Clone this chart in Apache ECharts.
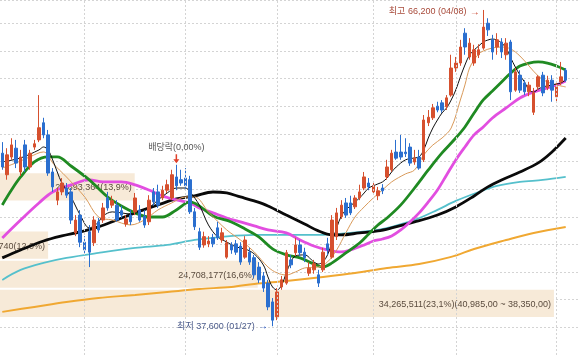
<!DOCTYPE html>
<html><head><meta charset="utf-8">
<script src="https://cdn.jsdelivr.net/npm/echarts/dist/echarts.min.js"></script>
<style>html,body{margin:0;padding:0;background:#fff}#c{width:580px;height:355px}</style>
</head><body><div id="c"></div>
<script>
// candles: [open, close, low, high]
const ohlc = [
[53250,52000,51750,54250],[51300,53100,50850,53700],[52900,54000,52650,54600],[53700,52350,51900,54450],
[51550,52900,51200,53550],[54000,52000,51550,54450],[52000,53250,51750,53550],[53800,54100,53550,54450],
[54450,55550,54250,58500],[56000,54900,54600,56450],[54900,51450,51200,55350],[51550,50200,49750,51900],
[49000,49750,48550,50100],[49750,50550,49450,51000],[50100,49450,49200,50550],[49750,47200,46850,50100],
[46050,47200,45750,47650],[47650,45200,44750,48100],[45200,44500,44050,45750],[46150,44300,42950,46750],
[45150,47200,44850,47550],[47050,46300,46050,47400],[47200,48300,46950,48750],[49200,48300,48050,49750],
[48550,48950,48300,49400],[48550,47200,47050,49000],[48050,47650,47400,48500],[46850,47300,46600,47650],
[47650,47050,46750,48100],[47950,49200,47650,49650],[48100,47200,47050,48550],[47550,46750,46500,48100],
[47050,49000,46750,49450],[49750,48850,48500,50100],[49750,48550,48300,50400],[49200,49900,49000,50300],
[49900,50400,49650,50850],[49200,51300,49000,51750],[51100,50300,49900,52200],[50850,50550,50300,51750],
[51000,50300,49900,51900],[50850,47950,47750,51200],[47950,46600,46300,48300],[46150,44750,44500,46500],
[44950,45700,44700,46150],[45050,45300,44750,45750],[45600,45050,44750,45950],[46500,45600,45400,47050],
[45400,46050,45150,46500],[43850,45150,43700,45400],[44950,44500,44150,45200],[45050,44300,44050,45400],
[44850,43400,43150,45200],[43850,45400,43700,45750],[44300,43400,43150,44700],[43800,42250,41950,44050],
[42950,41800,41500,43400],[42150,41050,40700,42500],[41500,39350,39050,41800],[39800,38150,37600,40150],
[38450,40700,38150,41050],[41150,41800,40900,42150],[41500,44250,41350,44500],[43600,43150,42850,44050],
[44250,44950,43950,45600],[44950,44250,43950,45400],[44300,43800,43400,44700],[42400,42850,42150,43400],
[42700,43250,42350,43600],[42250,41500,41150,42700],[42700,44300,42500,44700],[45050,44500,44050,45600],
[43850,47200,43700,47650],[45700,47850,45400,48300],[47500,48550,47300,49000],[48750,47650,47400,49200],
[48750,47850,47650,49400],[48400,49200,48200,49450],[49200,49750,49000,50400],[50100,51100,49900,51550],
[50550,50200,49900,51000],[49750,50300,49550,50550],[49400,49850,49000,50200],[50100,49850,49550,50450],
[51100,52000,50850,52650],[51750,53250,51550,53550],[53350,52800,52650,54450],[53350,52900,52650,54900],
[53350,53200,52900,54600],[53800,52350,52100,54150],[52450,52800,52200,53550],[52900,51900,51750,53550],
[52650,56250,52450,56700],[56000,56500,55700,57150],[56450,57350,56250,57700],[57500,57150,56950,57900],
[57800,57150,56900,58050],[57450,58250,57150,58500],[58500,60950,58350,62150],[60950,61400,60600,61950],
[61400,62850,61150,63500],[64100,62850,62150,64550],[61950,63200,61700,63650],[61400,62600,61150,63050],
[62150,62600,61850,63100],[62750,64650,62600,66200],[65000,64400,63850,65450],[63500,62400,61700,63950],
[62850,63500,62150,64100],[63300,62400,61850,63650],[62150,63200,61700,63650],[63300,58800,58050,63500],
[58950,60600,58800,60950],[60300,58950,58700,60750],[59600,58800,58500,59850],[58800,59400,58400,59700],
[56950,58700,56700,59150],[59250,60150,58950,60300],[60300,58700,58400,60600],[59150,59850,58950,60250],
[59850,58950,57900,60300],[58350,59250,57800,59700],[59700,60150,59400,61500],[60750,59850,59700,60950]
];
const days = ohlc.map((_, i) => 'D' + (i + 1));

// moving averages, [candle index, price]
const ma5 = [[0,52460],[4,52820],[8,53540],[9,53810],[10,53540],[11,52640],[12,51550],[13,50560],[15,49290],[17,47660],[19,46490],[20,46670],[21,47030],[22,47570],[24,47940],[26,47850],[28,47750],[30,47940],[32,48300],[34,49020],[36,49650],[38,50100],[40,50100],[41,49740],[43,48570],[45,46760],[47,45680],[49,45220],[51,44770],[53,44590],[55,44140],[57,43140],[58,42060],[59,41150],[60,40880],[61,41340],[62,42420],[63,43420],[64,43960],[66,44050],[68,43420],[69,43230],[70,43420],[71,44050],[72,45220],[73,46490],[74,47570],[75,48120],[76,48480],[77,48840],[78,49200],[79,49650],[80,50100],[82,50470],[83,50650],[84,51010],[85,51550],[86,52000],[88,52640],[90,52820],[91,52910],[92,53540],[93,54620],[94,55530],[95,56250],[96,56890],[97,57340],[98,58060],[99,58960],[100,60140],[101,61220],[102,62130],[103,62580],[104,62940],[105,63300],[106,63480],[107,63570],[108,63480],[109,63210],[110,62760],[111,61860],[112,61040],[113,60320],[114,59690],[115,58960],[116,58780],[117,59050],[118,59240],[119,59330],[120,59420],[121,59510],[122,59600],[123,59870]];
const ma10 = [[0,51910],[3,52370],[6,52910],[9,53360],[10,53090],[11,52370],[14,51100],[18,49290],[21,47480],[24,47210],[28,46760],[31,47210],[34,48120],[37,48750],[40,49290],[42,49290],[45,47940],[49,46310],[52,45400],[55,44320],[58,42960],[60,42420],[62,42240],[64,42510],[66,42870],[69,42960],[71,43420],[73,44500],[75,46040],[77,47480],[79,48390],[81,49200],[83,49920],[85,50650],[88,51370],[90,51730],[92,53090],[94,53990],[96,54620],[98,55530],[100,58060],[101,59420],[102,60950],[103,61680],[104,62220],[105,62490],[107,62760],[109,62850],[111,62670],[113,62040],[115,61130],[117,60230],[119,59690],[121,59420],[123,59240]];
const ma20 = [[0,48570],[2,49920],[4,51100],[7,52460],[10,52910],[12,52910],[15,52090],[19,50830],[23,49290],[26,48480],[29,47850],[32,47480],[35,47480],[38,48120],[41,48840],[43,48480],[46,47570],[50,47030],[53,46400],[56,45680],[59,44590],[62,44050],[65,43780],[68,43230],[70,42960],[72,43330],[75,44230],[78,45130],[80,45950],[82,46760],[84,47390],[87,48570],[90,50100],[93,51730],[96,53270],[99,54620],[101,55620],[103,56880],[105,58060],[107,58870],[109,59690],[111,60500],[113,61130],[115,61400],[117,61500],[119,61400],[121,61130],[123,60770]];
const ma60 = [[0,45590],[4,47210],[8,48750],[11,49740],[15,50380],[19,50830],[22,50650],[26,50650],[29,50380],[32,49920],[35,49380],[38,49020],[41,48750],[43,48300],[46,47850],[49,47390],[52,47030],[55,46670],[58,46310],[62,46040],[65,45400],[68,44860],[71,44500],[74,44320],[76,44500],[79,44950],[81,45310],[83,45490],[85,45770],[87,46310],[89,47030],[91,47850],[93,48840],[95,49920],[97,51280],[99,52640],[101,53810],[103,54900],[105,55620],[107,56430],[110,57340],[113,58240],[116,58780],[119,59150],[121,59420],[123,59780]];
const ma120 = [[0,43780],[4,44500],[9,45310],[13,45770],[17,46130],[21,46580],[25,47210],[29,47850],[34,48570],[38,49110],[42,49380],[46,49740],[49,49650],[52,49290],[55,48930],[58,48480],[62,47660],[66,46850],[69,46220],[72,45860],[74,45860],[78,46040],[82,46220],[85,46490],[90,47030],[95,47660],[99,48390],[103,49380],[106,50200],[109,50830],[113,51550],[117,52370],[120,53360],[123,54620]];
const maCyan = [[0,41790],[4,42690],[9,43330],[14,43780],[21,44230],[29,44680],[36,44950],[42,45400],[48,45680],[55,45860],[62,45860],[69,45860],[76,46040],[82,46310],[85,46580],[90,47210],[95,48120],[99,48930],[104,49740],[108,50290],[113,50650],[118,50830],[123,51100]];
const maOrange = [[0,38900],[7,39350],[14,39800],[21,40160],[29,40430],[36,40700],[43,40970],[50,41150],[55,41430],[62,41700],[70,42060],[77,42420],[84,42870],[91,43230],[98,43870],[103,44590],[110,45400],[116,46040],[123,46580]];

// volume-by-price bands
const bandLow  = [48890, 43620, 40985, 38350];
const bandHigh = [51525, 46255, 43620, 40985];
const bandVolume = [20693364, 17812740, 24708177, 34265511];
const bandPct = [13.9, 12.0, 16.6, 23.1];

const monthStarts = [18, 40, 60, 81, 99, 121];
const highPoint = {idx: 105, price: 66200, date: '04/08'};
const lowPoint = {idx: 59, price: 37600, date: '01/27'};
const exDiv = {idx: 38, price: 52200, text: '배당락(0,00%)'};

const fmt = n => n.toLocaleString('en-US');
const pctText = p => p.toFixed(1).replace('.', ',');
const maxK = bandVolume.indexOf(Math.max(...bandVolume));
const bandLabels = bandVolume.map((v, k) => {
  let s = fmt(v) + '(' + pctText(bandPct[k]) + '%)';
  if (k === maxK) s += '(' + fmt(bandHigh[k]) + ',00 ~ ' + fmt(bandLow[k]) + ',00)';
  return s;
});

const FONT = '"Liberation Sans", "Noto Sans CJK KR", sans-serif';
const chart = echarts.init(document.getElementById('c'), null, {renderer: 'canvas'});

function maSeries(data, color, width, z) {
  return {type: 'line', xAxisIndex: 0, yAxisIndex: 0, data, smooth: 0.35, showSymbol: false,
    silent: true, z, lineStyle: {color, width}, itemStyle: {color}};
}

chart.setOption({
  animation: false,
  backgroundColor: '#ffffff',
  grid: [
    {left: 0, right: 12, top: 0, bottom: 0},
    {left: 0, right: 0, top: 0, bottom: 0}
  ],
  xAxis: [
    {type: 'category', gridIndex: 0, data: days, boundaryGap: true, show: false},
    {type: 'value', gridIndex: 1, min: 10.944, max: 23.672, show: false}
  ],
  yAxis: [
    {type: 'value', gridIndex: 0, min: 35000, max: 67100, show: false, scale: true},
    {type: 'value', gridIndex: 1, min: 35000, max: 67100, interval: 2500,
      axisLine: {show: false}, axisTick: {show: false}, axisLabel: {show: false},
      splitLine: {show: true, lineStyle: {color: '#d4d4d4', type: [2, 2], width: 1}}}
  ],
  series: [
    {type: 'line', xAxisIndex: 0, yAxisIndex: 0, data: [], z: 1, silent: true,
      markLine: {silent: true, symbol: ['none', 'none'], label: {show: false},
        lineStyle: {color: '#d4d4d4', type: [2, 2], width: 1},
        data: monthStarts.map(i => ({xAxis: i}))}},
    {type: 'custom', xAxisIndex: 1, yAxisIndex: 1, z: 2, silent: true,
      data: bandPct.map((p, k) => [p, bandLow[k], bandHigh[k], k]),
      encode: {x: 0, y: [1, 2]},
      renderItem(params, api) {
        const k = api.value(3);
        const top = api.coord([api.value(0), api.value(2)]);
        const bot = api.coord([api.value(0), api.value(1)]);
        const x0 = params.coordSys.x;
        return {type: 'group', children: [
          {type: 'rect', shape: {x: x0, y: top[1] + 1, width: top[0] - x0, height: bot[1] - top[1] - 2},
            style: {fill: '#f7ead8'}},
          {type: 'text', style: {text: bandLabels[k], x: top[0] - 3, y: (top[1] + bot[1]) / 2 + 1,
            align: 'right', verticalAlign: 'middle', fill: '#5a4b3e', font: '9px ' + FONT}}
        ]};
      }},
    maSeries(maOrange, '#f0a832', 2, 3),
    maSeries(maCyan, '#55c0cc', 1.8, 3),
    maSeries(ma120, '#0a0a0a', 2.8, 3),
    maSeries(ma60, '#e24ee0', 2.8, 3),
    maSeries(ma20, '#1f8a22', 2.8, 3),
    maSeries(ma10, '#d99a5a', 1, 3),
    maSeries(ma5, '#111111', 1, 3),
    {type: 'candlestick', xAxisIndex: 0, yAxisIndex: 0, data: ohlc, barWidth: 3, z: 4,
      itemStyle: {color: '#d6502e', color0: '#2b6fcf', borderColor: '#d6502e', borderColor0: '#2b6fcf', borderWidth: 1},
      markPoint: {silent: true, animation: false, data: [
        {coord: [exDiv.idx, exDiv.price], symbol: 'path://M3,0 L5,0 L5,6 L8,6 L4,11 L0,6 L3,6 Z',
          symbolSize: [6, 9], symbolOffset: [0, -6], itemStyle: {color: '#e0402a'},
          label: {show: true, position: 'top', distance: 2, formatter: exDiv.text,
            color: '#555555', fontSize: 9, fontFamily: FONT}},
        {coord: [highPoint.idx, highPoint.price], symbol: 'circle', symbolSize: 1,
          itemStyle: {color: 'rgba(0,0,0,0)'},
          label: {show: true, position: 'left', distance: 3, offset: [0, 2],
            formatter: '{t|최고 ' + fmt(highPoint.price) + ' (' + highPoint.date + ')} {a|→}',
            rich: {t: {color: '#a84a3a', fontSize: 9, fontFamily: FONT},
                   a: {color: '#c8402a', fontSize: 10, fontWeight: 'bold', fontFamily: FONT}}}},
        {coord: [lowPoint.idx, lowPoint.price], symbol: 'circle', symbolSize: 1,
          itemStyle: {color: 'rgba(0,0,0,0)'},
          label: {show: true, position: 'left', distance: 4, offset: [0, 0],
            formatter: '{t|최저 ' + fmt(lowPoint.price) + ' (' + lowPoint.date + ')} {a|→}',
            rich: {t: {color: '#4a5a8a', fontSize: 9, fontFamily: FONT},
                   a: {color: '#2050c0', fontSize: 10, fontWeight: 'bold', fontFamily: FONT}}}}
      ]}}
  ]
});
</script>
</body></html>
